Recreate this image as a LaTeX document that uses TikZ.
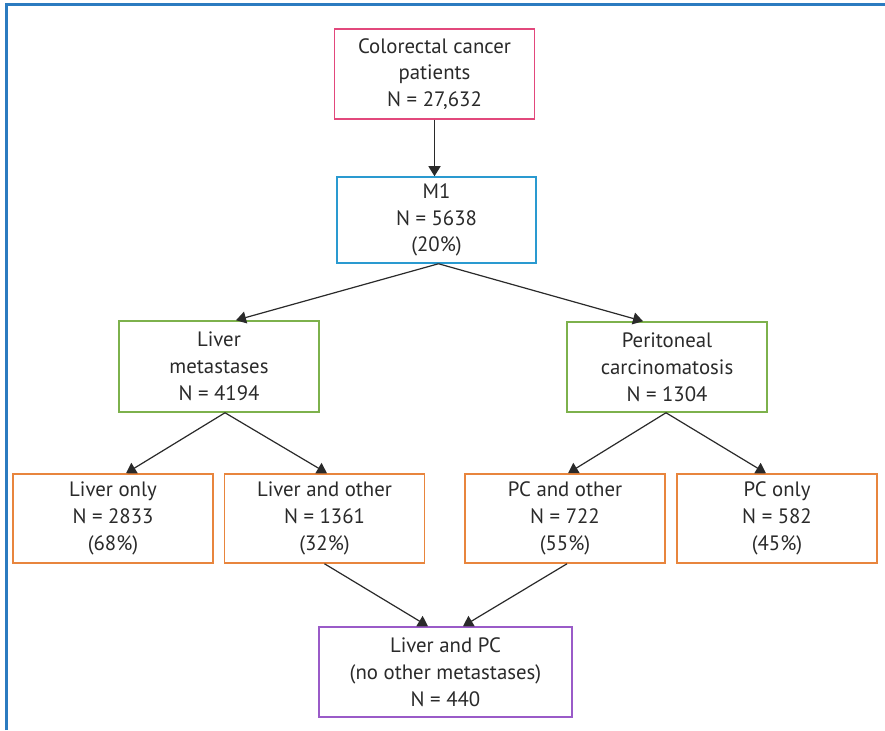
\documentclass[tikz,border=0pt]{standalone}
\usepackage{fontspec}
\setmainfont{PT Sans}
\usetikzlibrary{arrows.meta,calc}
\definecolor{frameblue}{HTML}{2B7BC0}
\definecolor{cpink}{HTML}{E2487C}
\definecolor{cblue}{HTML}{2A9AD0}
\definecolor{cgreen}{HTML}{7DB14C}
\definecolor{corange}{HTML}{E8853D}
\definecolor{cpurple}{HTML}{9A5BC8}
\definecolor{ctext}{HTML}{2A2A2A}
\tikzset{
  box/.style={draw, line width=1.5pt, minimum width=200pt, minimum height=90pt,
    align=center, inner sep=0pt, text=ctext,
    font=\fontsize{20.8}{26.8}\selectfont},
  conn/.style={draw=ctext, line width=1.2pt, -{Triangle[width=12pt,length=10pt]}},
}
\begin{document}
\begin{tikzpicture}[x=1pt,y=-1pt]
\useasboundingbox (0,0) rectangle (885,730);
\fill[white] (0,0) rectangle (885,730);
\draw[frameblue, line width=3pt] (6,730) -- (6,4.5) -- (885,4.5);

\node[box, draw=cpink]   (top)  at (434.5,74)  {Colorectal cancer\\patients\\N = 27,632};
\node[box, draw=cblue, minimum width=199pt, minimum height=86pt] (m1) at (436.5,220) {M1\\N = 5638\\(20\%)};
\node[box, draw=cgreen, minimum height=91pt]  (lm)   at (219,366.5) {Liver\\metastases\\N = 4194};
\node[box, draw=cgreen, minimum height=90pt]  (pcm)  at (667,367)   {Peritoneal\\carcinomatosis\\N = 1304};
\node[box, draw=corange, minimum height=89pt] (lo)   at (113,518.5) {Liver only\\N = 2833\\(68\%)};
\node[box, draw=corange, minimum height=89pt] (lao)  at (324.5,518.5) {Liver and other\\N = 1361\\(32\%)};
\node[box, draw=corange, minimum height=89pt] (pco)  at (565,518.5) {PC and other\\N = 722\\(55\%)};
\node[box, draw=corange, minimum height=89pt] (pcon) at (777,518.5) {PC only\\N = 582\\(45\%)};
\node[box, draw=cpurple, minimum width=253pt] (lpc) at (445.5,672) {Liver and PC\\(no other metastases)\\N = 440};

\draw[conn] (top.south) -- (top.south |- m1.north);
\draw[conn] ($(m1.south)+(2,0)$) -- ($(lm.north)+(17,0)$);
\draw[conn] ($(m1.south)+(2,0)$) -- ($(pcm.north)+(-24,0)$);
\draw[conn] ($(lm.south)+(6,0)$) -- ($(lo.north)+(13,0)$);
\draw[conn] ($(lm.south)+(6,0)$) -- ($(lao.north)+(2.5,0)$);
\draw[conn] ($(pcm.south)+(-1,0)$) -- ($(pco.north)+(3,0)$);
\draw[conn] ($(pcm.south)+(-1,0)$) -- ($(pcon.north)+(-11,0)$);
\draw[conn] (lao.south) -- ($(lpc.north)+(-17.5,0)$);
\draw[conn] ($(pco.south)+(2,0)$) -- ($(lpc.north)+(17.5,0)$);
\end{tikzpicture}
\end{document}
